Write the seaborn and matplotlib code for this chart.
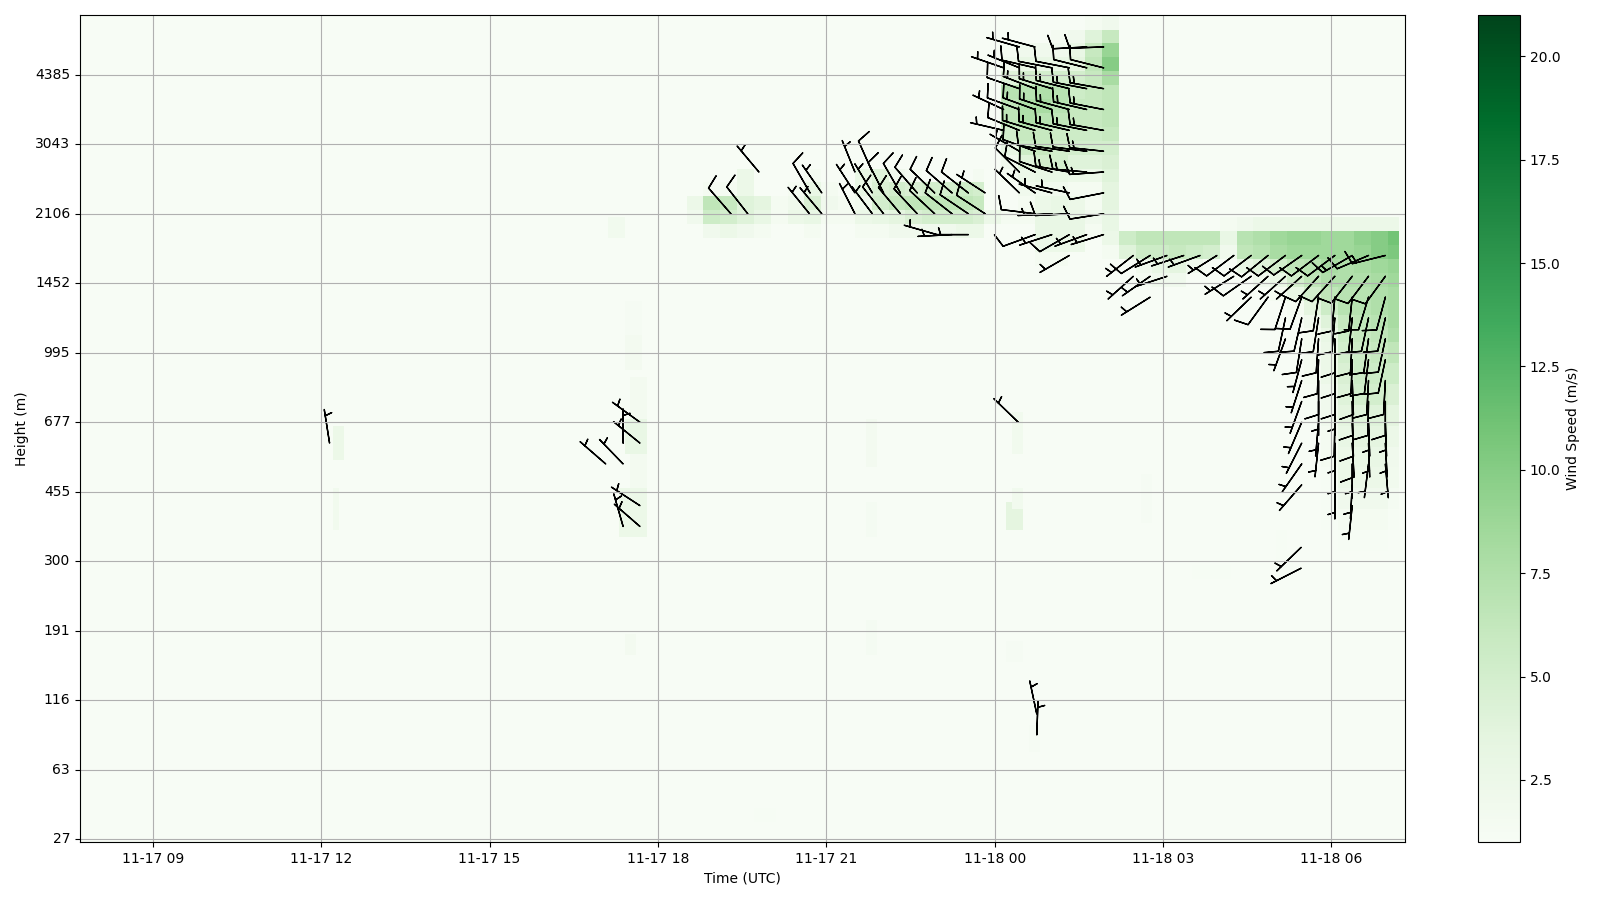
import numpy as np
import pandas as pd
import seaborn as sns
import matplotlib
matplotlib.use("Agg")
import matplotlib.pyplot as plt

# Height of every 10th range gate and the time labels
height_labels = [27, 63, 116, 191, 300, 455, 677, 995, 1452, 2106, 3043, 4385]
time_labels = ["11-17 09", "11-17 12", "11-17 15", "11-17 18", "11-17 21",
               "11-18 00", "11-18 03", "11-18 06"]
time_hours = [9, 12, 15, 18, 21, 24, 27, 30]

# Grid: 6 minute columns from hour 7.71, one row per range gate
n_cols = 236
n_levels = 119
start_hour = 7.71

# Wind speed, in patches (m/s)
top_cols = [161, 164, 167, 170, 173, 176, 179, 182]
top_levels = [118, 116, 114, 112, 110, 108, 106, 104, 102, 100, 98, 96, 94, 92, 90, 88, 86, 84]
top_speed = [
    [1, 1, 1, 1, 1, 1, 1.5, 2],
    [1, 1, 1, 1, 1.5, 2, 4, 6],
    [1, 1.5, 2, 2, 2, 3, 6, 9],
    [1, 2, 3, 3, 3, 3.5, 6.5, 10],
    [1, 4, 5, 5, 5, 5, 6, 8],
    [1, 7, 7, 7.5, 7, 5.5, 6, 6.5],
    [1, 6.5, 7.5, 8, 7, 6, 6, 6.5],
    [1, 6.5, 7.5, 7, 6.5, 6, 6, 6.5],
    [1, 5, 6, 6, 5.5, 5.5, 5.5, 6],
    [1, 3, 5.5, 6, 5, 5, 5, 5],
    [1, 2, 4, 5, 5, 4, 4, 4.5],
    [1, 1.5, 2.5, 3, 3, 2.5, 2.5, 4],
    [1, 1, 2, 2, 2, 1.5, 1.5, 3.5],
    [1, 1, 1.5, 2.5, 3, 2.5, 1.5, 3.5],
    [2.5, 1.5, 1.5, 3, 3, 3, 2, 3],
    [1, 1, 1, 3, 3, 3, 1.5, 3],
    [1, 1, 1, 2.5, 2.5, 2.5, 1, 3],
    [1, 1, 1, 1.5, 1.5, 1, 1, 2.5],
]

strip_cols = [108, 111, 114, 117, 120, 123, 126, 129, 132, 135, 138, 141, 144, 147, 150, 153, 156, 159, 162]
strip_levels = [96, 94, 92, 90, 88]
strip_speed = [
    [1, 1, 1, 2.5, 1, 1, 1, 1.5, 1, 1, 3, 4, 2, 1.5, 1, 1, 1, 1.5, 1],
    [1, 1.5, 1.5, 2.5, 1, 1, 1.5, 3, 1.5, 1, 3, 4.5, 5, 4.5, 5, 5, 5.5, 5, 2],
    [2.5, 6.5, 6, 4, 3.5, 1.5, 2, 4.5, 2, 1.5, 2, 5, 6, 6.5, 6.5, 6.5, 6.5, 6, 3],
    [2, 5.5, 5, 4, 3, 1.5, 2.5, 3, 1.5, 1.5, 2.5, 3, 3.5, 4.5, 5, 5, 5, 4.5, 3],
    [1, 2, 2.5, 2, 1.5, 1, 1, 1.5, 1, 1, 1.5, 1.5, 2, 2, 2, 2, 2.5, 2.5, 2],
]

right_cols = [182, 185, 188, 191, 194, 197, 200, 203, 206, 209, 212, 215, 218, 221, 224, 227, 230, 233]
right_levels = [89, 87, 85, 83, 81, 79, 77, 75, 73]
right_speed = [
    [3, 1, 1, 1, 1, 1, 1, 1.5, 2, 2.5, 2.5, 2.5, 2.5, 2.5, 2.5, 2.5, 2.5, 2.5],
    [2.5, 5.5, 6.5, 6.5, 6.5, 6.5, 6.5, 3, 7, 7.5, 8.5, 9, 9, 8.5, 8.5, 9.5, 10, 11],
    [1.5, 4, 5.5, 5.5, 6, 5.5, 5, 2, 6.5, 7, 8, 8.5, 8.5, 8.5, 8.5, 9, 10, 10.5],
    [1, 1, 2, 3, 3.5, 2, 1.2, 1, 3, 4, 5, 6.5, 7, 8, 7.5, 8, 8.5, 9],
    [1, 1, 1.5, 2, 2, 1, 1, 1, 1, 2, 3, 5, 6.5, 7.5, 7.5, 7.5, 8, 8.5],
    [1, 1, 1, 1, 1, 1, 1, 1, 1, 1, 1.5, 3, 5, 6.5, 7, 7, 7.5, 8],
    [1, 1, 1, 1, 1, 1, 1, 1, 1, 1, 1, 1.5, 3.5, 5.5, 7, 7, 7.5, 8],
    [1, 1, 1, 1, 1, 1, 1, 1, 1, 1, 1, 1.2, 2, 4, 6, 6.5, 7, 8],
    [1, 1, 1, 1, 1, 1, 1, 1, 1, 1, 1, 1, 1.5, 3, 5.5, 6, 6.5, 7.5],
]

low_cols = [215, 218, 221, 224, 227, 230, 233]
low_levels = [71, 68, 65, 62, 59, 56, 53, 50, 47, 44]
low_speed = [
    [1, 1.5, 2.5, 5, 5.5, 6, 6.5],
    [1, 1.5, 2.5, 4.5, 5.5, 5.5, 5.5],
    [1, 1.2, 2, 4, 5, 5, 4.5],
    [1, 1.2, 2, 3.5, 4, 4, 3.5],
    [1, 1, 1.5, 3, 3.5, 3.5, 2.5],
    [1, 1, 1.5, 2.5, 3, 3, 2],
    [1, 1, 1.2, 2.5, 2.5, 2.5, 1.8],
    [1, 1, 1.2, 2, 2, 2, 1.4],
    [1, 1, 1.2, 1.5, 1.5, 1.5, 1.2],
    [1, 1, 1, 1.2, 1.2, 1.2, 1],
]

# Small isolated echoes
blob_col0 = [97, 97, 98, 97, 96, 97, 45, 45, 140, 140, 140, 165, 166, 166, 165, 94, 189, 198, 213, 120, 169]
blob_col1 = [99, 99, 100, 100, 100, 98, 46, 45, 141, 141, 141, 167, 167, 167, 167, 96, 190, 204, 215, 123, 170]
blob_lev0 = [73, 68, 50, 56, 44, 27, 55, 45, 54, 44, 27, 45, 48, 56, 26, 87, 46, 38, 38, 3, 13]
blob_lev1 = [77, 72, 66, 60, 50, 29, 59, 50, 60, 48, 31, 48, 50, 61, 28, 89, 52, 39, 44, 4, 16]
blob_speed = [1.3, 1.6, 1.6, 3, 2.5, 1.6, 2.5, 1.8, 1.6, 1.4, 1.4, 3.5, 1.8, 1.8, 1.3, 1.8, 1.3, 1.2, 1.2, 1.2, 1.3]

# Wind barbs: hour of the tip, level, speed (m/s) and direction (deg), one line per row
barb_hour = [
    12.15,
    17.68, 17.68, 17.38, 17.07, 17.38, 17.68, 17.68, 17.38,
    24.42, 24.75, 24.75,
    29.46, 29.46,
    19.80, 21.51, 21.82,
    20.71, 20.92, 21.51, 21.82, 22.02, 22.32, 22.62, 22.93, 23.24, 23.53, 23.83,
    19.30, 19.60, 20.70, 20.92, 21.51, 21.82, 22.02, 22.32, 22.62, 22.93, 23.24, 23.53, 23.83,
    22.97, 23.24, 23.53,
    25.94, 25.64, 24.72, 24.44,
    25.94, 25.64, 25.33, 25.02, 24.72, 24.44, 24.16,
    25.94, 25.64, 25.33, 25.02, 24.72, 24.44,
    25.94, 25.64, 25.33, 25.02, 24.72, 24.44, 24.16,
    25.94, 25.64, 25.33, 25.02, 24.72, 24.44, 24.16,
    25.94, 25.64, 25.33, 25.02, 24.72, 24.44,
    25.94, 25.64, 25.33, 25.02, 24.72, 24.44,
    25.94, 25.33, 25.02, 24.72, 24.44,
    25.94, 25.33, 25.02, 24.72,
    25.94, 25.64, 25.33, 25.02, 24.72,
    25.33,
    30.96, 30.66, 30.37, 30.06, 29.77, 29.47, 29.18, 28.87, 28.57, 28.26, 27.96, 27.66, 27.37, 27.07, 26.77, 26.47,
    30.96, 30.66, 30.37, 30.06, 29.77, 29.47, 29.18, 28.87, 28.57, 28.26, 27.07, 26.77, 26.47,
    30.96, 30.66, 30.37, 30.06, 29.77, 29.47, 29.18, 28.87, 28.57, 26.77,
    30.96, 30.66, 30.37, 30.06, 29.77, 29.47, 29.18,
    30.96, 30.66, 30.37, 30.06, 29.77, 29.47, 29.18,
    30.96, 30.66, 30.37, 30.06, 29.77, 29.47,
    30.96, 30.66, 30.37, 30.06, 29.77, 29.47,
    30.96, 30.66, 30.37, 30.06, 29.77, 29.47,
    30.96, 30.66, 30.37, 30.06, 29.77, 29.47,
    30.96, 30.66, 30.37, 30.06, 29.77, 29.47,
    30.96, 30.66, 30.37, 30.06, 29.47,
    30.37, 30.06, 29.47,
    30.37,
]
barb_level = (
    [57]
    + [60, 57, 57, 54, 54, 48, 45, 45]
    + [60, 15, 18]
    + [39, 42]
    + [96] * 3 + [93] * 11 + [90] * 13 + [87] * 3
    + [114] * 4 + [111] * 7 + [108] * 6 + [105] * 7 + [102] * 7 + [99] * 6 + [96] * 6
    + [93] * 5 + [90] * 4 + [87] * 5 + [84]
    + [84] * 16 + [81] * 13 + [78] * 10 + [75] * 7 + [72] * 7 + [69] * 6 + [66] * 6
    + [63] * 6 + [60] * 6 + [57] * 6 + [54] * 5 + [51] * 3 + [48]
)
barb_speed = [
    5,
    5, 5, 5, 5, 5, 5, 5, 5,
    5, 5, 5,
    5, 5,
    5, 5, 10,
    10, 5, 5, 5, 10, 10, 10, 10, 10, 10, 5,
    10, 10, 5, 5, 5, 5, 10, 10, 10, 10, 10, 10, 10,
    5, 5, 5,
    10, 10, 5, 5,
    10, 10, 10, 10, 10, 5, 5,
    15, 15, 15, 15, 15, 10,
    15, 15, 15, 15, 15, 10, 5,
    15, 15, 15, 15, 15, 10, 5,
    15, 10, 10, 10, 10, 5,
    15, 15, 15, 10, 10, 10,
    10, 5, 5, 5, 5,
    10, 10, 5, 10,
    5, 5, 10, 5, 10,
    5,
    15, 10, 15, 10, 10, 10, 10, 10, 10, 10, 5, 5, 5, 5, 10, 5,
    10, 10, 10, 10, 10, 5, 5, 5, 10, 5, 5, 5, 5,
    10, 10, 10, 10, 10, 10, 10, 10, 5, 5,
    10, 10, 10, 10, 10, 10, 10,
    10, 10, 10, 10, 10, 10, 5,
    10, 10, 10, 10, 10, 5,
    10, 10, 10, 10, 10, 5,
    10, 10, 10, 5, 5, 5,
    5, 5, 10, 10, 5, 5,
    5, 5, 10, 5, 5, 5,
    5, 5, 5, 5, 5,
    5, 5, 5,
    5,
]
barb_dir = [
    351,
    306, 309, 360, 311, 316, 303, 311, 344,
    314, 2, 348,
    243, 226,
    320, 338, 336,
    330, 325, 327, 329, 333, 330, 319, 314, 311, 308, 303,
    319, 322, 321, 320, 333, 323, 322, 320, 317, 313, 308, 304, 303,
    286, 267, 270,
    268, 267, 285, 286,
    284, 284, 281, 281, 283, 292, 289,
    280, 281, 284, 287, 291, 289,
    281, 283, 285, 288, 290, 290, 295,
    280, 281, 283, 285, 287, 292, 283,
    276, 277, 278, 280, 290, 300,
    266, 275, 280, 288, 297, 315,
    259, 282, 285, 305, 314,
    261, 267, 267, 277,
    253, 250, 240, 252, 250,
    240,
    256, 247, 240, 233, 233, 235, 233, 231, 233, 233, 238, 250, 252, 250, 238, 232,
    216, 217, 218, 222, 222, 228, 228, 228, 235, 238, 252, 235, 228,
    195, 197, 186, 185, 189, 200, 198, 216, 226, 238,
    193, 192, 186, 185, 189, 193, 192,
    192, 188, 183, 180, 184, 189, 200,
    192, 187, 182, 180, 182, 195,
    183, 183, 178, 180, 180, 198,
    180, 181, 179, 180, 180, 200,
    178, 178, 178, 181, 185, 203,
    177, 178, 177, 180, 186, 207,
    175, 187, 180, 180, 215,
    183, 180, 221,
    186,
]

# Fill the speed grid, 1 m/s is the background colour
speed = np.ones((n_levels, n_cols))
for k in range(len(blob_speed)):
    speed[blob_lev0[k]:blob_lev1[k] + 1, blob_col0[k]:blob_col1[k] + 1] = blob_speed[k]

for cols, levels, values, h in [(strip_cols, strip_levels, strip_speed, 2),
                                (top_cols, top_levels, top_speed, 2),
                                (right_cols, right_levels, right_speed, 2),
                                (low_cols, low_levels, low_speed, 3)]:
    for i, lev in enumerate(levels):
        for j, col in enumerate(cols):
            speed[lev - h + 1:lev + 1, col:col + 3] = values[i][j]

# No data in the last column
speed[:, n_cols - 1] = 1

speed_df = pd.DataFrame(speed)

fig = plt.figure(figsize=(16, 9), dpi=100)
ax = fig.add_axes([79.8 / 1600, 1 - 842 / 900, 1325.2 / 1600, 827 / 900])
cax = fig.add_axes([1478 / 1600, 1 - 842 / 900, 42 / 1600, 827 / 900])

sns.heatmap(speed_df, cmap="Greens", vmin=1, vmax=21, ax=ax, cbar_ax=cax,
            cbar_kws={"label": "Wind Speed (m/s)"})
ax.set_ylim(0.1, n_levels + 0.1)
ax.set_xlim(-0.1, n_cols)

# Barbs from speed and direction
hours = np.array(barb_hour)
levels = np.array(barb_level)
wspd = np.array(barb_speed, dtype=float)
wdir = np.deg2rad(np.array(barb_dir, dtype=float))
u = -wspd * np.sin(wdir)
v = -wspd * np.cos(wdir)
cbar = ax.collections[0].colorbar
ax.barbs((hours - start_hour) * 10, levels + 0.5, u, v, length=7, color="black")

ax.set_xticks([(h - start_hour) * 10 for h in time_hours])
ax.set_xticklabels(time_labels, rotation=0)
ax.set_yticks([i * 10 + 0.5 for i in range(len(height_labels))])
ax.set_yticklabels(height_labels, rotation=0)
ax.set_xlabel("Time (UTC)")
ax.set_ylabel("Height (m)")
ax.grid(True)
ax.tick_params(left=True, bottom=True)

for spine in ax.spines.values():
    spine.set_visible(True)
    spine.set_linewidth(0.8)
cbar.outline.set_visible(True)
cbar.outline.set_linewidth(0.8)

fig.savefig("out.png", dpi=100)
